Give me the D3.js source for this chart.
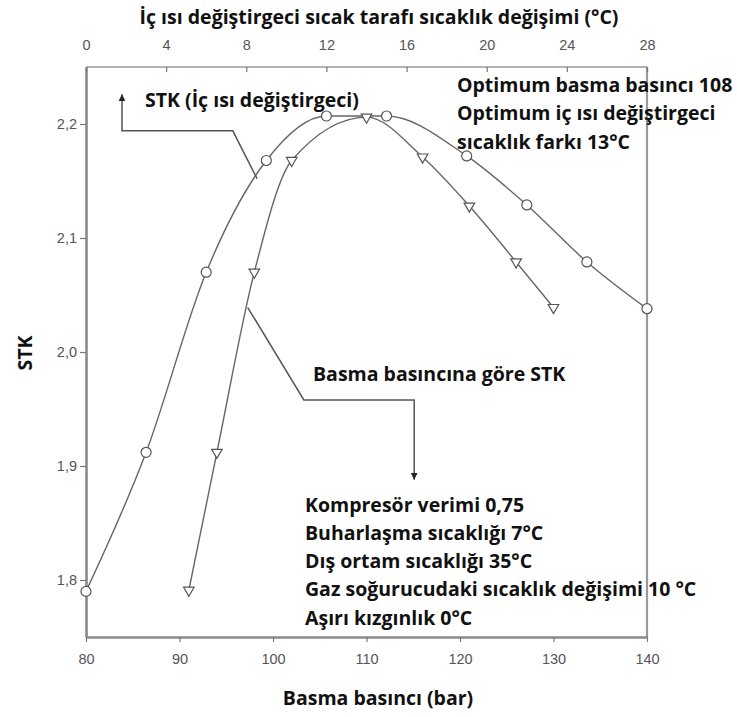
<!DOCTYPE html>
<html>
<head>
<meta charset="utf-8">
<script src="https://cdn.jsdelivr.net/npm/d3@7"></script>
<style>
  body { margin: 0; background: #fff; }
  .tick text { font-family: "Liberation Sans", Arial, sans-serif; font-size: 14.5px; fill: #555; }
  .note { font-family: "Open Sans", Lato, sans-serif; font-weight: 700; font-size: 19.5px; fill: #111; }
</style>
</head>
<body>
<div id="chart"></div>
<script>
// Üst eksen: iç ısı değiştirgeci sıcak tarafı sıcaklık değişimi (°C)
const sicaklikDegisimi = [0, 3, 6, 9, 12, 15, 19, 22, 25, 28];
const stkIcIsi = [1.790, 1.912, 2.070, 2.168, 2.207, 2.207, 2.172, 2.129, 2.079, 2.038];

// Alt eksen: basma basıncı (bar)
const basmaBasinci = [91, 94, 98, 102, 110, 116, 121, 126, 130];
const stkBasma = [1.791, 1.912, 2.070, 2.168, 2.206, 2.171, 2.128, 2.079, 2.039];

const xTicks = [80, 90, 100, 110, 120, 130, 140];
const xTopTicks = [0, 4, 8, 12, 16, 20, 24, 28];
const yTicks = [1.8, 1.9, 2.0, 2.1, 2.2];

const notlarSag = ["Optimum basma basıncı 108", "Optimum iç ısı değiştirgeci", "sıcaklık farkı 13°C"];
const notlarAlt = ["Kompresör verimi 0,75", "Buharlaşma sıcaklığı 7°C", "Dış ortam sıcaklığı 35°C",
  "Gaz soğurucudaki sıcaklık değişimi 10 °C", "Aşırı kızgınlık 0°C"];

const W = 737, H = 717;
const margin = { top: 67, right: 90, bottom: 80, left: 86 };
const w = W - margin.left - margin.right;
const h = H - margin.top - margin.bottom;

const svg = d3.select("#chart").append("svg")
  .attr("width", W).attr("height", H);

const g = svg.append("g")
  .attr("transform", "translate(" + margin.left + "," + margin.top + ")");

const x = d3.scaleLinear().domain([80, 140]).range([0, w]);
const xTop = d3.scaleLinear().domain([0, 28]).range([0, w]);
const y = d3.scaleLinear().domain([1.75, 2.25]).range([h, 0]);

const fmt = d => d3.format(".1f")(d).replace(".", ",");

// kutu: üst ve sağ çizgiler
g.append("line").attr("x1", 0).attr("x2", w).attr("y1", 0).attr("y2", 0)
  .attr("stroke", "#999").attr("stroke-width", 1.3);
g.append("line").attr("x1", w).attr("x2", w).attr("y1", 0).attr("y2", h)
  .attr("stroke", "#999").attr("stroke-width", 2.2);

// eksenler
const axX = g.append("g").attr("transform", "translate(0," + h + ")")
  .call(d3.axisBottom(x).tickValues(xTicks).tickSize(5).tickSizeOuter(0).tickPadding(12));
const axY = g.append("g")
  .call(d3.axisLeft(y).tickValues(yTicks).tickFormat(fmt).tickSize(6).tickSizeOuter(0).tickPadding(3));
const axTop = g.append("g")
  .call(d3.axisTop(xTop).tickValues(xTopTicks).tickSizeInner(-5).tickSizeOuter(0).tickPadding(17));

[axX, axY].forEach(a => a.select(".domain").attr("stroke", "#8a8a8a").attr("stroke-width", 2.6));
axTop.select(".domain").remove();
[axX, axY, axTop].forEach(a => a.selectAll(".tick line").attr("stroke", "#777").attr("stroke-width", 1.2));
axX.selectAll(".tick text").attr("dy", "0.71em");
axTop.selectAll(".tick text").attr("dy", "0em");

// eğriler
const lineTop = d3.line()
  .x((d, i) => xTop(sicaklikDegisimi[i]))
  .y(d => y(d))
  .curve(d3.curveMonotoneX);
const lineBottom = d3.line()
  .x((d, i) => x(basmaBasinci[i]))
  .y(d => y(d))
  .curve(d3.curveMonotoneX);

g.append("path").datum(stkIcIsi).attr("d", lineTop)
  .attr("fill", "none").attr("stroke", "#666").attr("stroke-width", 1.4);
g.append("path").datum(stkBasma).attr("d", lineBottom)
  .attr("fill", "none").attr("stroke", "#666").attr("stroke-width", 1.4);

// işaretler
g.selectAll(".daire").data(stkIcIsi).enter().append("circle")
  .attr("class", "daire")
  .attr("cx", (d, i) => xTop(sicaklikDegisimi[i]))
  .attr("cy", d => y(d))
  .attr("r", 5)
  .attr("fill", "#fff").attr("stroke", "#555").attr("stroke-width", 1.2);

const tri = d3.symbol().type(d3.symbolTriangle).size(48);
g.selectAll(".ucgen").data(stkBasma).enter().append("path")
  .attr("class", "ucgen")
  .attr("d", tri)
  .attr("transform", (d, i) => "translate(" + x(basmaBasinci[i]) + "," + y(d) + ") rotate(180)")
  .attr("fill", "#fff").attr("stroke", "#555").attr("stroke-width", 1.2);

// açıklama okları
svg.append("defs").append("marker")
  .attr("id", "ok").attr("viewBox", "0 0 10 10")
  .attr("refX", 10).attr("refY", 5)
  .attr("markerWidth", 7).attr("markerHeight", 9)
  .attr("markerUnits", "userSpaceOnUse")
  .attr("orient", "auto")
  .append("path").attr("d", "M0,0L10,5L0,10z").attr("fill", "#222");

const leader1 = [[98.3, 2.152], [95.7, 2.194], [83.85, 2.194], [83.85, 2.226]];
const leader2 = [[97.3, 2.039], [103.3, 1.958], [115.1, 1.958], [115.1, 1.888]];
const ll = d3.line().x(d => x(d[0])).y(d => y(d[1]));
[leader1, leader2].forEach(p => {
  g.append("path").attr("d", ll(p))
    .attr("fill", "none").attr("stroke", "#555").attr("stroke-width", 1.5)
    .attr("marker-end", "url(#ok)");
});

// yazılar
svg.append("text").attr("class", "note")
  .attr("x", 379).attr("y", 17).attr("dy", "0.35em").attr("text-anchor", "middle")
  .text("İç ısı değiştirgeci sıcak tarafı sıcaklık değişimi (°C)");
svg.append("text").attr("class", "note")
  .attr("x", 378).attr("y", 698).attr("dy", "0.35em").attr("text-anchor", "middle")
  .text("Basma basıncı (bar)");
svg.append("text").attr("class", "note")
  .attr("transform", "translate(25,353) rotate(-90)")
  .attr("dy", "0.35em").attr("text-anchor", "middle")
  .text("STK");

svg.append("text").attr("class", "note")
  .attr("x", 145).attr("y", 100).attr("dy", "0.35em")
  .text("STK (İç ısı değiştirgeci)");
svg.append("text").attr("class", "note")
  .attr("x", 313).attr("y", 374).attr("dy", "0.35em")
  .text("Basma basıncına göre STK");

svg.selectAll(".sag").data(notlarSag).enter().append("text")
  .attr("class", "note sag")
  .attr("x", 457).attr("y", (d, i) => 85 + i * 28.5).attr("dy", "0.35em")
  .text(d => d);

svg.selectAll(".alt").data(notlarAlt).enter().append("text")
  .attr("class", "note alt")
  .attr("x", 305).attr("y", (d, i) => 505 + i * 28.2).attr("dy", "0.35em")
  .text(d => d);
</script>
</body>
</html>
